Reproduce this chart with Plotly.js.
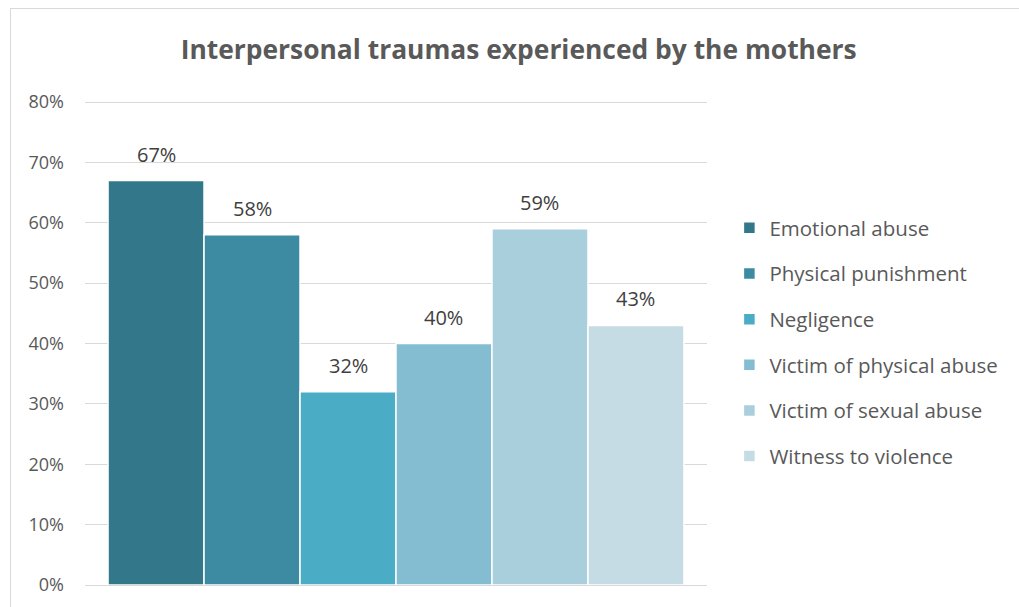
<!DOCTYPE html>
<html>
<head>
<meta charset="utf-8">
<script src="https://cdn.plot.ly/plotly-3.0.1.min.js"></script>
<style>
html,body{margin:0;padding:0;background:#fff;}
#chart{width:1019px;height:607px;position:absolute;left:0;top:0;}
#frame{position:absolute;left:10px;top:8px;width:1020px;height:610px;border:1px solid #d9d9d9;pointer-events:none;}
</style>
</head>
<body>
<div id="chart"></div>
<div id="frame"></div>
<script>
const categories = ["Emotional abuse","Physical punishment","Negligence","Victim of physical abuse","Victim of sexual abuse","Witness to violence"];
const values = [0.67, 0.58, 0.32, 0.40, 0.59, 0.43];
const labels = ["67%","58%","32%","40%","59%","43%"];
const colors = ["#32788A","#3C8BA3","#4BACC6","#84BDD1","#A9CEDC","#C5DCE5"];
const yTicks = [0,0.1,0.2,0.3,0.4,0.5,0.6,0.7,0.8];
const yTickText = ["0%","10%","20%","30%","40%","50%","60%","70%","80%"];

const traces = categories.map((c,i)=>({
  type:'bar',
  name:c,
  x:[i],
  y:[values[i]],
  width:[1],
  legendgroup:'g'+i,
  marker:{color:colors[i],line:{color:'#ffffff',width:1.5}},
  hoverinfo:'skip'
}));

const annotations = categories.map((c,i)=>({
  x:i, y:values[i], xref:'x', yref:'y',
  text:labels[i], showarrow:false,
  xanchor:'center', yanchor:'bottom', yshift:11,
  font:{family:'Open Sans, sans-serif',size:20,color:'#404040'}
}));

const layout = {
  width:1019,height:607,
  margin:{l:85,r:312,t:99,b:22,pad:0},
  paper_bgcolor:'rgba(0,0,0,0)',
  plot_bgcolor:'#ffffff',
  barmode:'overlay',
  bargap:0,
  title:{text:'<b>Interpersonal traumas experienced by the mothers</b>',
    font:{family:'Open Sans, sans-serif',size:26.4,color:'#595959'},
    x:0.509,xanchor:'center',y:0.918,yanchor:'middle'},
  xaxis:{range:[-0.74,5.74],showticklabels:false,showgrid:false,zeroline:false,showline:false,ticks:'',fixedrange:true},
  yaxis:{range:[0,0.805],tickvals:yTicks,ticktext:yTickText,
    showgrid:true,gridcolor:'#d9d9d9',gridwidth:1,zeroline:true,zerolinecolor:'#d9d9d9',zerolinewidth:1,
    showline:false,ticks:'',ticklabelstandoff:20,
    tickfont:{family:'Open Sans, sans-serif',size:18,color:'#595959'}},
  annotations:annotations,
  showlegend:true,
  legend:{x:1.036,xanchor:'left',y:0.5,yanchor:'middle',
    font:{family:'Open Sans, sans-serif',size:20.5,color:'#595959'},
    tracegroupgap:16,traceorder:'grouped',itemclick:false,itemdoubleclick:false}
};

Plotly.newPlot('chart',traces,layout,{displayModeBar:false,staticPlot:true});
</script>
</body>
</html>
